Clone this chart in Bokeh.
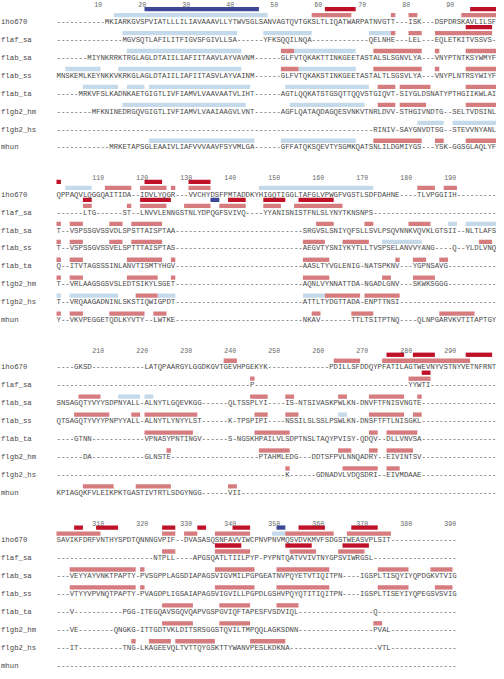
from bokeh.plotting import figure
from bokeh.models import Range1d, ColumnDataSource
from bokeh.core.properties import value
from bokeh.embed import file_html
from bokeh.resources import INLINE

# ---------------- data ----------------
names = ["iho670", "flaf_sa", "flab_sa", "flab_ss", "flab_ta", "flgb2_hm", "flgb2_hs", "mhun"]
block_len = [100, 100, 100, 91]
ruler_ticks = [[10, 20, 30, 40, 50, 60, 70, 80, 90],
               [110, 120, 130, 140, 150, 160, 170, 180, 190],
               [210, 220, 230, 240, 250, 260, 270, 280, 290],
               [310, 320, 330, 340, 350, 360, 370, 380, 390]]

block1 = [
    "-----------MKIARKGVSPVIATLLLILIAVAAAVLLYTWVSGLSANVAGTQVTGKSLTLIQATWARPATNVGTT---ISK---DSPDRSKAVLILSF",
    "---------------MGVSQTLAFILITFIGVSFGIVLLSA------YFKSQQILNQA-------------QELNHE---LEL---EQLETKITVSSVS-",
    "-------MIYNKRRKTRGLAGLDTAIILIAFIITAAVLAYVAVNM------GLFVTQKAKTTINKGEETASTALSLSGNVLYA---VNYPTNTKSYWMYF",
    "MNSKEMLKEYNKKVKRKGLAGLDTAIILIAFIITASVLAYVAINM------GLFVTQKAKSTINKGEETASTALTLSGSVLYA---VNYPLNTRSYWIYF",
    "-----MRKVFSLKADNKAETGIGTLIVFIAMVLVAAVAATVLIHT------AGTLQQKATSTGSQTTQQVSTGIQVT-SIYGLDSNATYPTHGIIKWLAI",
    "--------MFKNINEDRGQVGIGTLIVFIAMVLVAAIAAGVLVNT------AGFLQATAQDAGQESVNKVTNRLDVV-STHGIVNDTG--SELTVDSINL",
    "------------------------------------------------------------------------RINIV-SAYGNVDTSG--STEVVNYANL",
    "------------MRKETAPSGLEAAIVLIAFVVVAAVFSYVMLGA------GFFATQKSQEVTYSGMKQATSNLILDGMIYGS---YSK-GGSGLAQLYF",
]
block2 = [
    "QPPAQVLQGGQAITIDA--IDVLYQGR---VVCHYDSFPMTADDKYHIGQTIGGLTAFGLVPWGFVGSTLSDFDAHNE----TLVPGGIIH---------",
    "------LTG------ST--LNVVLENNGSTNLYDPQGFSVIVQ----YYANISNISTFNLSLYNYTKNSNPS----------------------------",
    "T--VSPSSGVSSVDLSPSTTAISPTAA-----------------------------SRGVSLSNIYQFSLLSVLPSQVNNKVQVKLGTSII--NLTLAFS",
    "T--VSPSSGVSSVELSPTTTAISPTAS-----------------------------AEGVTYSNIYKYTLLTVSPSELANVVYANG----Q--YLDLVNQ",
    "Q--ITVTAGSSSINLANVTISMTYHGV-----------------------------AASLTYVGLENIG-NATSPKNV---YGPNSAVG-----------",
    "T--VRLAAGSGSVSLEDTSIKYLSGET-----------------------------AQNLVYNNATTDA-NGADLGNV---SKWKSGGG-----------",
    "T--VRQAAGADNINLSKSTIQWIGPDT-----------------------------ATTLTYDGTTADA-ENPTTNSI----------------------",
    "Y--VKVPEGGETQDLKYVTY--LWTKE-----------------------------NKAV-------TTLTSITPTNQ----QLNPGARVKVTITAPTGY",
]
block3 = [
    "----GKSD------------LATQPAARGYLGGDKGVTGEVHPGEKYK--------------PDILLSFDDQYPFATILAGTWEVNYVSTNYVETNFRNT",
    "--------------------------------------------P-----------------------------------YYWTI---------------",
    "SNSAGQTYVYYSDPNYALL-ALNYTLGQEVKGG------QLTSSPLYI----IS-NTSIVASKPWLKN-DNVFTFNISVNGTE-----------------",
    "QTSAGQTYVYYPNPYYALL-ALNYTLYNYYLST------K-TPSPIPI----NSSILSLSSLPSWLKN-DNSFTFTLNISGKL-----------------",
    "----GTNN------------VPNASYPNTINGV------S-NGSKHPAILVLSDPTNSLTAQYPVISY-QDQV--DLLVNVSA-----------------",
    "------DA------------GLNSTE--------------------PTAHMLEDG---DDTSFPVLNNQADRY--EIVINTSV-----------------",
    "----------------------------------------------------K------GDNADVLVDQSDRI--EIVMDAAE-----------------",
    "KPIAGQKFVLEIKPKTGASTIVTRTLSDGYNGG------VII----------------------------------------------------------",
]
block4 = [
    "SAVIKFDRFVNTHYSPDTQNNNGVPIF--DVASASQSNFAVVIWCPNVPNVMQSVDVKMVFSDGSTWEASVPLSIT---------------",
    "----------------------NTPLL----APGSQATLTIILPYP-PYPNTQATVVIVTNYGPSVIWRGSL-------------------",
    "---VEYYAYVNKTPAPTY-PVSGPPLAGSDIAPAGSVIGVMILPGPGEATNVPQYETVTIQITPN----IGSPLTISQYIYQPDGKVTVIG",
    "---VTYYVPVNQTPAPTY-PVAGDPLIGSAIAPAGSVIGVILLPGPDLGSHVPQYQTITIQITPN----IGSPLTISEYIYQPEGSVSVIG",
    "---V-----------PGG-ITEGQAVSGQVQAPVGSPGVIQFTAPESFVSDVIQL-----------------Q------------------",
    "---VE--------QNGKG-ITTGDTVKLDITSRSGGSTQVILTMPQQLAGKSDNN-----------------PVAL---------------",
    "---IT----------TNG-LKAGEEVQLTVTTQYGSKTTYWANVPESLKDKNA--------------------VTL---------------",
    "-------------------------------------------------------------------------------------------",
]
blocks = [block1, block2, block3, block4]

# secondary-structure annotations, alignment columns (first, last)
helix_strong = {
    "iho670": [(21, 46), (351, 352)],
    "flaf_sa": [(136, 137)],
}
helix = {
    "iho670": [(14, 48), (103, 108), (147, 172), (350, 352)],
    "flaf_sa": [(16, 41), (48, 58), (72, 76)],
    "flab_sa": [(17, 42), (55, 68), (190, 191), (194, 200), (215, 219), (221, 222)],
    "flab_ss": [(3, 10), (15, 42), (56, 68), (175, 183), (265, 266)],
    "flab_ta": [(7, 14), (17, 20), (22, 44), (53, 71)],
    "flgb2_hm": [(16, 43), (54, 70)],
    "flgb2_hs": [(83, 88), (91, 100), (101, 101), (104, 114), (124, 127), (157, 161)],
    "mhun": [(22, 45), (52, 68)],
}
strand_strong = {
    "iho670": [(62, 68), (95, 100), (101, 101), (121, 124), (131, 135), (276, 279), (282, 286),
               (294, 299), (305, 306), (310, 314), (325, 327), (333, 334), (341, 344),
               (356, 361), (368, 373)],
    "flaf_sa": [(94, 99), (107, 108), (120, 126), (140, 143), (148, 152), (156, 163), (284, 285),
                (337, 342), (353, 358), (366, 371)],
}
strand = {
    "iho670": [(59, 67), (77, 77), (81, 82), (93, 100), (112, 117), (120, 125), (127, 127),
               (131, 135), (183, 186), (189, 191), (239, 241), (264, 269), (275, 294),
               (301, 310), (325, 327), (330, 332), (337, 344), (353, 363), (367, 376)],
    "flaf_sa": [(77, 77), (81, 83), (87, 99), (107, 108), (117, 117), (120, 125), (130, 135),
                (138, 143), (148, 151), (155, 165), (245, 245), (281, 285), (325, 327),
                (337, 344), (354, 359), (365, 370)],
    "flab_sa": [(52, 54), (73, 83), (87, 87), (94, 100), (101, 101), (104, 106), (113, 115),
                (118, 124), (160, 163), (171, 172), (181, 185), (206, 210), (245, 248),
                (253, 254), (265, 266), (272, 279), (283, 283), (304, 318), (320, 320),
                (337, 345), (351, 362), (374, 380), (386, 390)],
    "flab_ss": [(52, 55), (73, 83), (87, 87), (94, 100), (101, 101), (104, 106), (113, 115),
                (118, 124), (157, 161), (166, 171), (197, 199), (205, 212), (218, 219),
                (221, 232), (246, 248), (253, 255), (272, 279), (282, 283), (304, 318),
                (320, 320), (337, 345), (351, 362), (374, 380), (387, 390)],
    "flab_ta": [(74, 77), (79, 85), (94, 100), (101, 101), (104, 106), (117, 124), (127, 127),
                (157, 162), (178, 178), (182, 184), (188, 189), (221, 231), (246, 253),
                (272, 273), (276, 282), (325, 331), (338, 344), (351, 355)],
    "flgb2_hm": [(74, 77), (79, 84), (94, 100), (101, 101), (104, 106), (117, 123), (127, 127),
                 (157, 162), (175, 176), (182, 186), (226, 226), (247, 253), (265, 267),
                 (272, 273), (276, 281), (325, 331), (338, 344), (373, 374)],
    "flgb2_hs": [(119, 123), (162, 169), (171, 178), (253, 253), (266, 273), (276, 278),
                 (318, 318), (322, 326), (328, 336), (345, 352)],
    "mhun": [(73, 83), (87, 88), (94, 100), (101, 101), (104, 106), (113, 120), (123, 125),
             (159, 160), (168, 172), (188, 195), (207, 213), (219, 226), (240, 241)],
}

# ---------------- layout ----------------
W, H = 496, 671
COL_W = 4.4                      # px per alignment column
ROW0, BLOCK_DY, ROW_DY = 20.7, 175.9, 18.27
RULER_OFF, DARK_OFF, LIGHT_OFF, BAR_H = -17.2, -12.9, -6.8, 4.4
FONT = value("Liberation Mono")
TXT = "#4a4a4a"

p = figure(width=W, height=H, output_backend="svg", toolbar_location=None,
           x_range=Range1d(-56 / COL_W, 100), y_range=Range1d(682, -1),
           min_border=0, outline_line_color=None, background_fill_color="white")
p.xaxis.visible = False
p.yaxis.visible = False
p.xgrid.visible = False
p.ygrid.visible = False


def row_y(b, r):
    return ROW0 + b * BLOCK_DY + r * ROW_DY


def bars(ann, off, color):
    L, R, T, B = [], [], [], []
    for r, name in enumerate(names):
        for (s, e) in ann.get(name, []):
            b = (s - 1) // 100
            cs = s - 100 * b
            ce = e - 100 * b
            y = row_y(b, r) + off
            L.append(cs - 1)
            R.append(ce)
            T.append(y - BAR_H / 2)
            B.append(y + BAR_H / 2)
    p.quad(left=L, right=R, top=T, bottom=B, fill_color=color, line_color=None)


bars(helix, LIGHT_OFF, "#c4d9ea")
bars(strand, LIGHT_OFF, "#d67b7e")
bars(helix_strong, DARK_OFF, "#3c4797")
bars(strand_strong, DARK_OFF, "#bf1128")

# sequences + names
sx, sy, st, lx, ly, lt = [], [], [], [], [], []
for b, blk in enumerate(blocks):
    for r, seq in enumerate(blk):
        seq = seq.ljust(block_len[b], "-")[:block_len[b]]
        sx.append(0)
        sy.append(row_y(b, r))
        st.append(seq)
        lx.append(-56 / COL_W + 0.1)
        ly.append(row_y(b, r))
        lt.append(names[r])

p.text(x="x", y="y", text="text", source=ColumnDataSource(dict(x=sx, y=sy, text=st)),
       text_font=FONT, text_font_size="7.33px", text_color=TXT,
       text_align="left", text_baseline="middle")
p.text(x="x", y="y", text="text", source=ColumnDataSource(dict(x=lx, y=ly, text=lt)),
       text_font=FONT, text_font_size="7.33px", text_color=TXT,
       text_align="left", text_baseline="middle")

# rulers
rx, ry, rt = [], [], []
for b, ticks in enumerate(ruler_ticks):
    for t in ticks:
        rx.append(t - 100 * b - 0.5)
        ry.append(row_y(b, 0) + RULER_OFF)
        rt.append(str(t))
p.text(x="x", y="y", text="text", source=ColumnDataSource(dict(x=rx, y=ry, text=rt)),
       text_font=FONT, text_font_size="6.6px", text_color="#666666",
       text_align="center", text_baseline="middle")

open("out.html", "w").write(file_html(p, INLINE))
